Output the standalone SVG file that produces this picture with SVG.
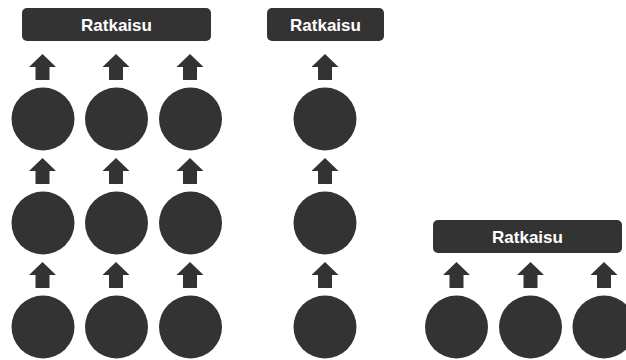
<svg xmlns="http://www.w3.org/2000/svg" xmlns:xlink="http://www.w3.org/1999/xlink" width="626" height="360" viewBox="0 0 626 360">
  <style>
    .box { fill: #333333; }
    .ball { fill: #333333; }
    .label { fill: #ffffff; font-family: "Liberation Sans", Arial, sans-serif; font-weight: bold; font-size: 17px; text-anchor: middle; }
    .up { fill: #333333; }
  </style>
  <defs>
    <!-- upward block arrow, tip at origin -->
    <path id="arrow" d="M0,0 L13.5,13 L7,13 L7,26 L-7,26 L-7,13 L-13.5,13 Z"/>
  </defs>
  <rect width="626" height="360" fill="#ffffff"/>

  <!-- solution bars -->
  <g id="ratkaisu-1">
    <rect class="box" x="22" y="8" width="189" height="33" rx="5"/>
    <text class="label" x="116.5" y="31">Ratkaisu</text>
  </g>
  <g id="ratkaisu-2">
    <rect class="box" x="267" y="8" width="117" height="33" rx="5"/>
    <text class="label" x="325.5" y="31">Ratkaisu</text>
  </g>
  <g id="ratkaisu-3">
    <rect class="box" x="433" y="220" width="189" height="33" rx="5"/>
    <text class="label" x="527.5" y="243">Ratkaisu</text>
  </g>

  <!-- left grid: three columns, three layers -->
  <g id="a1"><circle class="ball" cx="43" cy="119" r="31.5"/></g>
  <g id="a2"><circle class="ball" cx="116.5" cy="119" r="31.5"/></g>
  <g id="a3"><circle class="ball" cx="190.5" cy="119" r="31.5"/></g>
  <g id="b1"><circle class="ball" cx="43" cy="223" r="31.5"/></g>
  <g id="b2"><circle class="ball" cx="116.5" cy="223" r="31.5"/></g>
  <g id="b3"><circle class="ball" cx="190.5" cy="223" r="31.5"/></g>
  <g id="c1"><circle class="ball" cx="43" cy="327" r="31.5"/></g>
  <g id="c2"><circle class="ball" cx="116.5" cy="327" r="31.5"/></g>
  <g id="c3"><circle class="ball" cx="190.5" cy="327" r="31.5"/></g>

  <!-- middle column -->
  <g id="m1"><circle class="ball" cx="325" cy="119" r="31.5"/></g>
  <g id="m2"><circle class="ball" cx="325" cy="223" r="31.5"/></g>
  <g id="m3"><circle class="ball" cx="325" cy="327" r="31.5"/></g>

  <!-- right row -->
  <g id="r1"><circle class="ball" cx="456.5" cy="327" r="31.5"/></g>
  <g id="r2"><circle class="ball" cx="530.5" cy="327" r="31.5"/></g>
  <g id="r3"><circle class="ball" cx="604" cy="327" r="31.5"/></g>

  <!-- connectors -->
  <g id="connectors" class="up">
    <use xlink:href="#arrow" x="42.5" y="54"/>
    <use xlink:href="#arrow" x="116" y="54"/>
    <use xlink:href="#arrow" x="190" y="54"/>
    <use xlink:href="#arrow" x="42.5" y="158"/>
    <use xlink:href="#arrow" x="116" y="158"/>
    <use xlink:href="#arrow" x="190" y="158"/>
    <use xlink:href="#arrow" x="42.5" y="262"/>
    <use xlink:href="#arrow" x="116" y="262"/>
    <use xlink:href="#arrow" x="190" y="262"/>

    <use xlink:href="#arrow" x="325" y="54"/>
    <use xlink:href="#arrow" x="325" y="158"/>
    <use xlink:href="#arrow" x="325" y="262"/>

    <use xlink:href="#arrow" x="456.5" y="262"/>
    <use xlink:href="#arrow" x="530.5" y="262"/>
    <use xlink:href="#arrow" x="604" y="262"/>
  </g>
</svg>
